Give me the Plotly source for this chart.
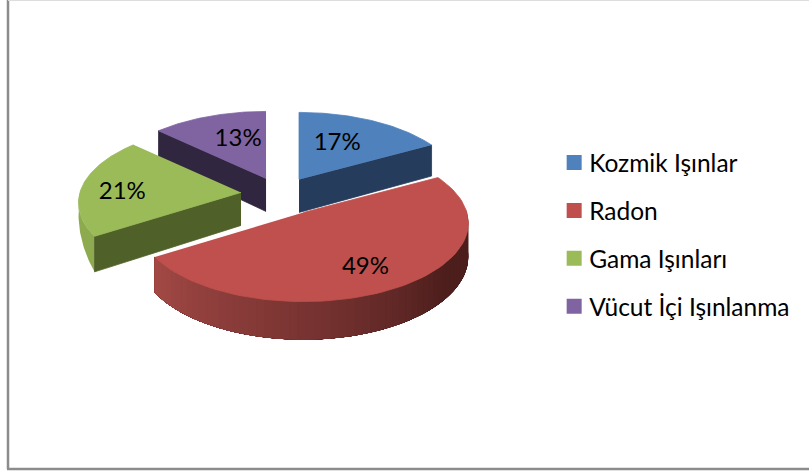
import numpy as np
import plotly.graph_objects as go

categories = ['Kozmik Işınlar', 'Radon', 'Gama Işınları', 'Vücut İçi Işınlanma']
values = [17, 49, 21, 13]

top_colors = ['#4F81BD', '#C0504D', '#9BBB59', '#8064A2']
wall_colors = ['#253C5C', '#7A3432', '#4F6128', '#31263F']

# fake 3d: tilted disc with a bit of perspective, one unit on the axes is one pixel
CX, CY = 280.5, 194.2
RX, RY = 161, 76
PERSP = 0.134
DEPTH = 33
explode = [36.4, 45, 39.7, 36.4]
scale = [1, 1.015, 1, 1]
label_fx = [0.52, 0.66, 0.75, 0.49]
label_fy = [0.65, 0.70, 0.30, 0.66]

edges = np.radians(np.cumsum([0] + values) * 3.6)
mids = (edges[:-1] + edges[1:]) / 2


def apex(i):
    return (CX + explode[i] * np.sin(mids[i]),
            CY - explode[i] * RY / RX * np.cos(mids[i]))


def rim(i, theta, depth=0):
    ax, ay = apex(i)
    s = 1 / (1 + PERSP * np.cos(theta))
    return (ax + scale[i] * RX * np.sin(theta) * s,
            ay - scale[i] * RY * np.cos(theta) * s + depth * s)


def polygon(fig, xs, ys, color, width=0.8):
    fig.add_trace(go.Scatter(x=list(xs), y=list(ys), mode='lines', fill='toself',
                             fillcolor=color, line=dict(color=color, width=width),
                             showlegend=False, hoverinfo='skip'))


def top_face(fig, i):
    t = np.linspace(edges[i], edges[i + 1], 80)
    rx, ry = rim(i, t)
    ax, ay = apex(i)
    polygon(fig, np.r_[ax, rx], np.r_[ay, ry], top_colors[i])


def inner_wall(fig, i, theta):
    ax, ay = apex(i)
    x0, y0 = rim(i, theta)
    x1, y1 = rim(i, theta, DEPTH)
    polygon(fig, [ax, x0, x1, ax], [ay, y0, y1, ay + DEPTH], wall_colors[i])


def outer_wall(fig, i, t0, t1, color, taper=False):
    t = np.linspace(t0, t1, 60)
    depth = np.linspace(DEPTH, 0, 60) if taper else DEPTH
    xa, ya = rim(i, t)
    xb, yb = rim(i, t, depth)
    polygon(fig, np.r_[xa, xb[::-1]], np.r_[ya, yb[::-1]], color, width=0)


def red_shade(theta):
    deg = np.degrees(theta)
    pos = [125, 180, 237.6]
    r = np.interp(deg, pos, [0x4C, 0x7A, 0xA4])
    g = np.interp(deg, pos, [0x1E, 0x34, 0x4A])
    b = np.interp(deg, pos, [0x1C, 0x32, 0x46])
    return f'rgb({r:.0f},{g:.0f},{b:.0f})'


fig = go.Figure()

# back to front
inner_wall(fig, 3, edges[3])
top_face(fig, 3)
inner_wall(fig, 0, edges[1])
top_face(fig, 0)

outer_wall(fig, 2, edges[2], np.radians(275), '#8DAA4E', taper=True)
inner_wall(fig, 2, edges[2])
top_face(fig, 2)

# gradient: each strip runs to the end of the wall and the next one paints over it
strips = np.linspace(np.radians(88), edges[2], 60)
for t0 in strips[:-1]:
    outer_wall(fig, 1, t0, edges[2], red_shade(t0))
top_face(fig, 1)

# percent labels
label_x, label_y = [], []
for i in range(4):
    ax, ay = apex(i)
    rx, ry = rim(i, mids[i])
    label_x.append(ax + (rx - ax) * label_fx[i])
    label_y.append(ay + (ry - ay) * label_fy[i] + 3)
fig.add_trace(go.Scatter(x=label_x, y=label_y, mode='text',
                         text=[f'{v}%' for v in values],
                         textposition='middle center',
                         textfont=dict(family='Lato', size=24, color='black'),
                         showlegend=False, hoverinfo='skip'))

# legend
for name, color in zip(categories, top_colors):
    fig.add_trace(go.Scatter(x=[None], y=[None], mode='markers', name=name, legendgroup=name,
                             marker=dict(symbol='square', size=15, color=color)))

# chart frame
frame = dict(type='line', xref='x', yref='y', layer='below')
fig.add_shape(x0=8, x1=8, y0=0, y1=469, line=dict(color='#8C8C8C', width=2.5), **frame)
fig.add_shape(x0=7, x1=809, y0=469, y1=469, line=dict(color='#8C8C8C', width=2.5), **frame)
fig.add_shape(x0=8, x1=809, y0=0.5, y1=0.5, line=dict(color='#DDDDDD', width=1), **frame)

fig.update_layout(
    width=809, height=472,
    margin=dict(l=0, r=0, t=0, b=0),
    paper_bgcolor='white', plot_bgcolor='white',
    xaxis=dict(range=[0, 809], visible=False, fixedrange=True),
    yaxis=dict(range=[472, 0], visible=False, fixedrange=True),
    font=dict(family='Lato', size=24.5, color='black'),
    legend=dict(x=0.685, y=0.703, xanchor='left', yanchor='top',
                tracegroupgap=13, itemsizing='trace',
                bgcolor='rgba(0,0,0,0)', traceorder='grouped'),
)

# plotly keeps a wider gap between swatch and text than the original
post = """document.body.style.margin='0';
document.querySelectorAll('.legendtext').forEach(function (t) {
  t.setAttribute('x', parseFloat(t.getAttribute('x')) - 5);
});"""
fig.write_html('out.html', config=dict(displayModeBar=False), post_script=post)
